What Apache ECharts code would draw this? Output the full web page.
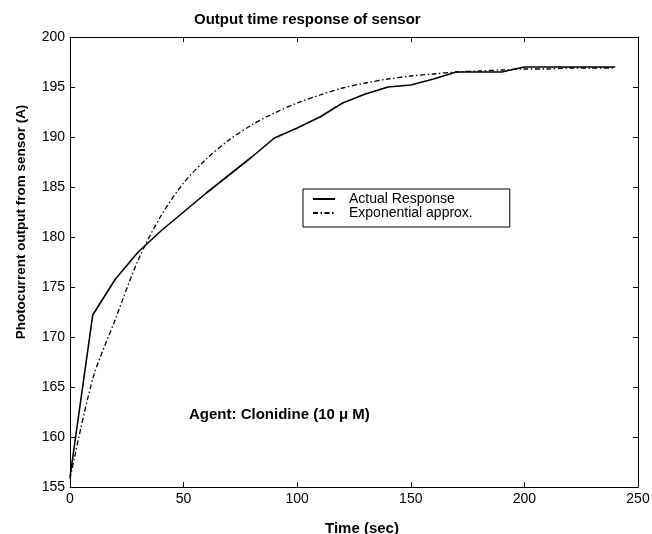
<!DOCTYPE html>
<html>
<head>
<meta charset="utf-8">
<script src="https://cdn.jsdelivr.net/npm/echarts@6/dist/echarts.min.js"></script>
<style>
  html, body { margin: 0; padding: 0; background: #fff; }
  #main { width: 652px; height: 534px; }
</style>
</head>
<body>
<div id="main"></div>
<script>
    var times = [0, 10, 20, 30, 40, 50, 60, 70, 80, 90, 100, 110, 120,
        130, 140, 150, 160, 170, 180, 190, 200, 210, 220, 230, 240];
    var actual = [156, 172.2, 175.8, 178.5, 180.6, 182.5, 184.4, 186.2, 188.0, 189.9, 190.9, 192.0, 193.4,
        194.3, 195.0, 195.2, 195.8, 196.5, 196.5, 196.5, 197.0, 197.0, 197.0, 197.0, 197.0];
    var expApprox = [155.8, 165.8, 171.8, 177.7, 182.1, 185.4, 187.8, 189.7, 191.2, 192.4, 193.4, 194.2, 194.9,
        195.4, 195.8, 196.1, 196.3, 196.5, 196.6, 196.7, 196.8, 196.8, 196.9, 196.9, 196.9];
    var seriesNames = ['Actual Response', 'Exponential approx.'];

    var dom = document.getElementById('main');
    var myChart = echarts.init(dom, null, { renderer: 'canvas' });
    var font = 'Liberation Sans';

    function pairs(ys) {
        return times.map(function (t, i) { return [t, ys[i]]; });
    }

    var tickStyle = { show: true, inside: true, length: 5, lineStyle: { color: '#000', width: 1 } };
    var lineAxis = { show: true, onZero: false, lineStyle: { color: '#000', width: 1 } };

    var option = {
        animation: false,
        backgroundColor: '#fff',
        title: {
            text: 'Output time response of sensor',
            left: 189,
            top: 7,
            textStyle: { fontFamily: font, fontSize: 15, fontWeight: 'bold', color: '#000' }
        },
        grid: { left: 70, right: 14, top: 37, bottom: 47, outerBoundsMode: 'none' },
        legend: {
            data: seriesNames,
            orient: 'vertical',
            left: 303,
            top: 189,
            padding: [3, 37, 7, 9],
            itemGap: 0,
            itemWidth: 22,
            itemHeight: 14,
            itemStyle: { opacity: 0 },
            borderColor: '#000',
            borderWidth: 1,
            backgroundColor: '#fff',
            textStyle: { fontFamily: font, fontSize: 14, color: '#000', padding: [0, 0, 0, 9] }
        },
        xAxis: [{
            type: 'value', min: 0, max: 250, interval: 50,
            name: 'Time (sec)', nameLocation: 'middle', nameGap: 34,
            nameTextStyle: { fontFamily: font, fontSize: 15, fontWeight: 'bold', color: '#000', padding: [0, 0, 0, 16] },
            axisLine: lineAxis, axisTick: tickStyle,
            axisLabel: { fontFamily: font, fontSize: 14, color: '#000', margin: 5 },
            splitLine: { show: false }
        }, {
            type: 'value', min: 0, max: 250, interval: 50, position: 'top',
            axisLine: lineAxis, axisTick: tickStyle, axisLabel: { show: false },
            splitLine: { show: false }
        }],
        yAxis: [{
            type: 'value', min: 155, max: 200, interval: 5,
            name: 'Photocurrent output from sensor (A)', nameLocation: 'middle', nameGap: 42,
            nameTextStyle: { fontFamily: font, fontSize: 13.5, fontWeight: 'bold', color: '#000', padding: [0, 0, 0, 80] },
            axisLine: lineAxis, axisTick: tickStyle,
            axisLabel: { fontFamily: font, fontSize: 14, color: '#000', margin: 5 },
            splitLine: { show: false }
        }, {
            type: 'value', min: 155, max: 200, interval: 5, position: 'right',
            axisLine: lineAxis, axisTick: tickStyle, axisLabel: { show: false },
            splitLine: { show: false }
        }],
        graphic: [{
            type: 'text',
            left: 189,
            top: 407,
            style: {
                text: 'Agent: Clonidine (10 \u03bc M)',
                font: 'bold 15px "Liberation Sans"',
                fill: '#000'
            }
        }],
        series: [{
            name: seriesNames[0],
            type: 'line',
            data: pairs(actual),
            symbol: 'none',
            color: '#000',
            lineStyle: { color: '#000', width: 1.6, type: 'solid' }
        }, {
            name: seriesNames[1],
            type: 'line',
            data: pairs(expApprox),
            symbol: 'none',
            smooth: 0.3,
            color: '#000',
            lineStyle: { color: '#000', width: 1.3, type: [5, 2.5, 1.5, 2.5] }
        }]
    };

    option && myChart.setOption(option);
</script>
</body>
</html>
